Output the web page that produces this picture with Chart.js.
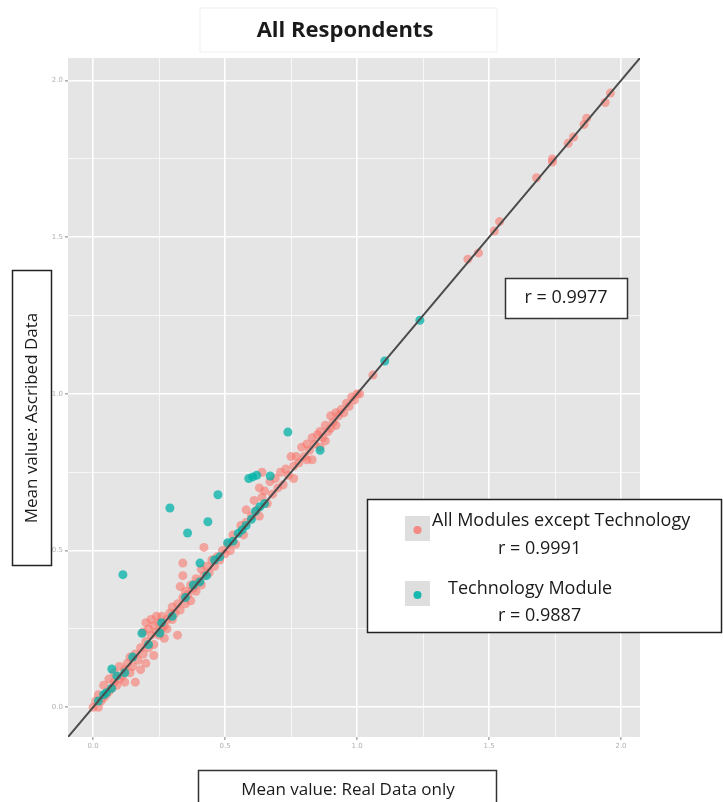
<!DOCTYPE html>
<html>
<head>
<meta charset="utf-8">
<script src="https://cdn.jsdelivr.net/npm/chart.js@4/dist/chart.umd.min.js"></script>
<style>
  html, body { margin: 0; padding: 0; background: #fff; }
  #wrap { position: relative; width: 723px; height: 802px; }
</style>
</head>
<body>
<div id="wrap"><canvas id="c" width="723" height="802"></canvas></div>
<script>
// axis settings
const axisMin = -0.095;
const axisMax = 2.072;
const tickLabels = ["0.0", "0.5", "1.0", "1.5", "2.0"];

// All Modules except Technology: [real data mean, ascribed data mean]
const otherModules = [
  [0.00,0.00],[0.01,0.02],[0.02,0.00],[0.02,0.04],[0.03,0.02],[0.04,0.03],[0.04,0.07],[0.05,0.04],
  [0.06,0.05],[0.06,0.09],[0.07,0.06],[0.08,0.08],[0.08,0.11],[0.09,0.07],[0.10,0.09],[0.10,0.13],
  [0.11,0.10],[0.12,0.12],[0.12,0.08],[0.13,0.14],[0.14,0.11],[0.14,0.16],[0.15,0.13],[0.16,0.08],
  [0.16,0.17],[0.17,0.15],[0.18,0.12],[0.20,0.14],
  [0.18,0.19],[0.19,0.17],[0.19,0.24],[0.20,0.21],[0.20,0.27],[0.21,0.19],[0.21,0.25],[0.22,0.23],
  [0.22,0.28],[0.23,0.20],[0.23,0.26],[0.23,0.165],[0.24,0.24],[0.24,0.29],[0.25,0.23],[0.25,0.27],
  [0.26,0.25],[0.26,0.29],[0.27,0.26],[0.27,0.22],[0.28,0.28],[0.28,0.25],[0.29,0.30],[0.30,0.28],
  [0.30,0.32],[0.31,0.30],[0.32,0.23],[0.32,0.33],[0.33,0.31],[0.33,0.385],[0.34,0.35],[0.34,0.42],
  [0.34,0.46],[0.35,0.33],[0.35,0.37],
  [0.36,0.36],[0.37,0.39],[0.37,0.34],[0.38,0.38],[0.39,0.41],[0.39,0.37],[0.40,0.40],[0.41,0.44],
  [0.41,0.39],[0.42,0.51],[0.42,0.42],[0.43,0.45],[0.44,0.43],[0.45,0.47],[0.46,0.45],[0.47,0.48],
  [0.48,0.47],[0.49,0.50],[0.50,0.49],[0.51,0.52],[0.52,0.50],[0.53,0.55],[0.54,0.52],
  [0.56,0.58],[0.57,0.55],[0.58,0.63],[0.58,0.59],[0.60,0.61],[0.61,0.66],[0.62,0.63],[0.63,0.70],
  [0.63,0.61],[0.64,0.75],[0.64,0.67],[0.65,0.69],[0.66,0.65],[0.67,0.72],[0.68,0.68],[0.69,0.73],
  [0.70,0.70],[0.71,0.75],[0.72,0.71],[0.73,0.76],[0.74,0.74],[0.75,0.80],[0.76,0.73],[0.76,0.77],
  [0.77,0.80],[0.78,0.78],[0.79,0.83],[0.80,0.80],[0.81,0.84],[0.81,0.79],[0.82,0.82],[0.83,0.79],
  [0.83,0.86],[0.84,0.84],[0.85,0.87],[0.86,0.83],[0.86,0.88],[0.87,0.86],[0.88,0.85],[0.88,0.90],
  [0.89,0.88],[0.90,0.93],[0.90,0.89],[0.91,0.91],[0.92,0.94],[0.92,0.90],[0.93,0.93],[0.94,0.95],
  [0.95,0.94],[0.96,0.97],[0.97,0.96],[0.98,0.99],[0.99,0.98],[1.00,1.00],[1.01,1.00],
  [1.06,1.06],[1.42,1.43],[1.46,1.45],[1.52,1.52],[1.54,1.55],[1.68,1.69],[1.74,1.74],[1.74,1.75],
  [1.80,1.80],[1.82,1.82],[1.86,1.86],[1.87,1.88],[1.94,1.93],[1.96,1.96]
];

// Technology Module
const techModule = [
  [0.738,0.878],[0.59,0.73],[0.605,0.735],[0.62,0.74],[0.671,0.738],[0.473,0.678],[0.291,0.636],
  [0.435,0.592],[0.358,0.556],[0.113,0.423],[0.071,0.122],
  [0.02,0.02],[0.04,0.04],[0.05,0.046],[0.07,0.06],[0.09,0.10],[0.12,0.11],[0.15,0.16],[0.185,0.236],
  [0.21,0.20],[0.253,0.237],[0.26,0.27],[0.30,0.29],[0.35,0.35],[0.38,0.39],[0.405,0.40],[0.405,0.46],
  [0.43,0.42],[0.46,0.47],[0.48,0.48],[0.51,0.525],[0.53,0.53],[0.55,0.555],[0.565,0.566],[0.58,0.58],
  [0.60,0.60],[0.615,0.625],[0.632,0.64],[0.65,0.65],[0.86,0.82],[1.105,1.105],[1.238,1.235]
];

const rAll = "r = 0.9977";
const rOther = "r = 0.9991";
const rTech = "r = 0.9887";

const toPoints = arr => arr.map(p => ({ x: p[0], y: p[1] }));
const isMajor = v => Math.abs(v * 2 - Math.round(v * 2)) < 1e-6;

const panel = {
  id: "panel",
  beforeDraw(chart) {
    const { ctx, chartArea: a } = chart;
    ctx.save();
    ctx.fillStyle = "#e5e5e5";
    ctx.fillRect(a.left, a.top, a.right - a.left, a.bottom - a.top);
    ctx.restore();
  }
};

function box(ctx, x, y, w, h, stroke, lw) {
  ctx.fillStyle = "#fff";
  ctx.fillRect(x, y, w, h);
  ctx.strokeStyle = stroke;
  ctx.lineWidth = lw;
  ctx.strokeRect(x, y, w, h);
  ctx.fillStyle = "#1a1a1a";
}

const overlay = {
  id: "overlay",
  afterDraw(chart) {
    const ctx = chart.ctx;
    ctx.save();
    ctx.textBaseline = "middle";
    ctx.textAlign = "center";

    // title
    box(ctx, 200, 8, 297, 44, "#f0f0f0", 1);
    ctx.font = "bold 22px 'Open Sans'";
    ctx.fillText("All Respondents", 345, 31);

    // r box
    box(ctx, 505.5, 278.5, 122, 40, "#333", 1.5);
    ctx.font = "18px 'Open Sans'";
    ctx.fillText(rAll, 566, 298);

    // legend
    box(ctx, 367.5, 499.5, 354, 133, "#222", 1.5);
    ctx.fillStyle = "#dedede";
    ctx.fillRect(405, 516, 25, 25);
    ctx.fillRect(405, 581, 25, 25);
    ctx.fillStyle = "rgba(248,118,109,0.8)";
    ctx.beginPath(); ctx.arc(417.5, 530, 4, 0, Math.PI * 2); ctx.fill();
    ctx.fillStyle = "rgba(0,180,170,0.9)";
    ctx.beginPath(); ctx.arc(417.5, 595, 4, 0, Math.PI * 2); ctx.fill();
    ctx.fillStyle = "#1a1a1a";
    ctx.font = "18px 'Open Sans'";
    ctx.textAlign = "left";
    ctx.fillText("All Modules except Technology", 432, 521);
    ctx.fillText(rOther, 498, 549);
    ctx.fillText("Technology Module", 448, 589);
    ctx.fillText(rTech, 498, 616);

    // x axis title
    box(ctx, 198.5, 770.5, 298, 40, "#333", 1.5);
    ctx.textAlign = "center";
    ctx.font = "17px 'Open Sans'";
    ctx.fillText("Mean value: Real Data only", 348, 790);

    // y axis title
    box(ctx, 12.5, 270.5, 39, 295, "#222", 1.5);
    ctx.translate(32, 418);
    ctx.rotate(-Math.PI / 2);
    ctx.font = "17px 'Open Sans'";
    ctx.fillText("Mean value: Ascribed Data", 0, 0);
    ctx.restore();
  }
};

function axis(fitKey, fitSize) {
  return {
    type: "linear",
    min: axisMin,
    max: axisMax,
    afterFit(scale) { scale[fitKey] = fitSize; },
    afterBuildTicks(scale) {
      scale.ticks = [];
      for (let i = 0; i <= 8; i++) scale.ticks.push({ value: i * 0.25 });
    },
    border: { display: false },
    grid: {
      color: c => "#ffffff",
      lineWidth: c => (isMajor(c.tick.value) ? 1.6 : 0.7),
      tickColor: c => (isMajor(c.tick.value) ? "#b0b0b0" : "rgba(0,0,0,0)"),
      tickLength: 3
    },
    ticks: {
      padding: 2,
      color: "#b0b0b0",
      font: { size: 7, family: "'DejaVu Sans'" },
      callback: v => (isMajor(v) ? tickLabels[Math.round(v * 2)] : "")
    }
  };
}

new Chart(document.getElementById("c"), {
  type: "scatter",
  data: {
    datasets: [
      {
        type: "line",
        label: "y = x",
        data: [{ x: axisMin, y: axisMin }, { x: axisMax, y: axisMax }],
        borderColor: "#4a4a4a",
        borderWidth: 2,
        pointRadius: 0
      },
      {
        label: "Technology Module",
        data: toPoints(techModule),
        backgroundColor: "rgba(0,178,168,0.75)",
        borderWidth: 0,
        pointRadius: 4.5
      },
      {
        label: "All Modules except Technology",
        data: toPoints(otherModules),
        backgroundColor: "rgba(248,118,109,0.6)",
        borderWidth: 0,
        pointRadius: 4.5
      }
    ]
  },
  options: {
    responsive: false,
    animation: false,
    devicePixelRatio: 1,
    layout: { padding: { left: 48, right: 83, top: 58, bottom: 43 } },
    plugins: {
      legend: { display: false },
      tooltip: { enabled: false }
    },
    scales: {
      x: axis("height", 22),
      y: axis("width", 20)
    }
  },
  plugins: [panel, overlay]
});
</script>
</body>
</html>
